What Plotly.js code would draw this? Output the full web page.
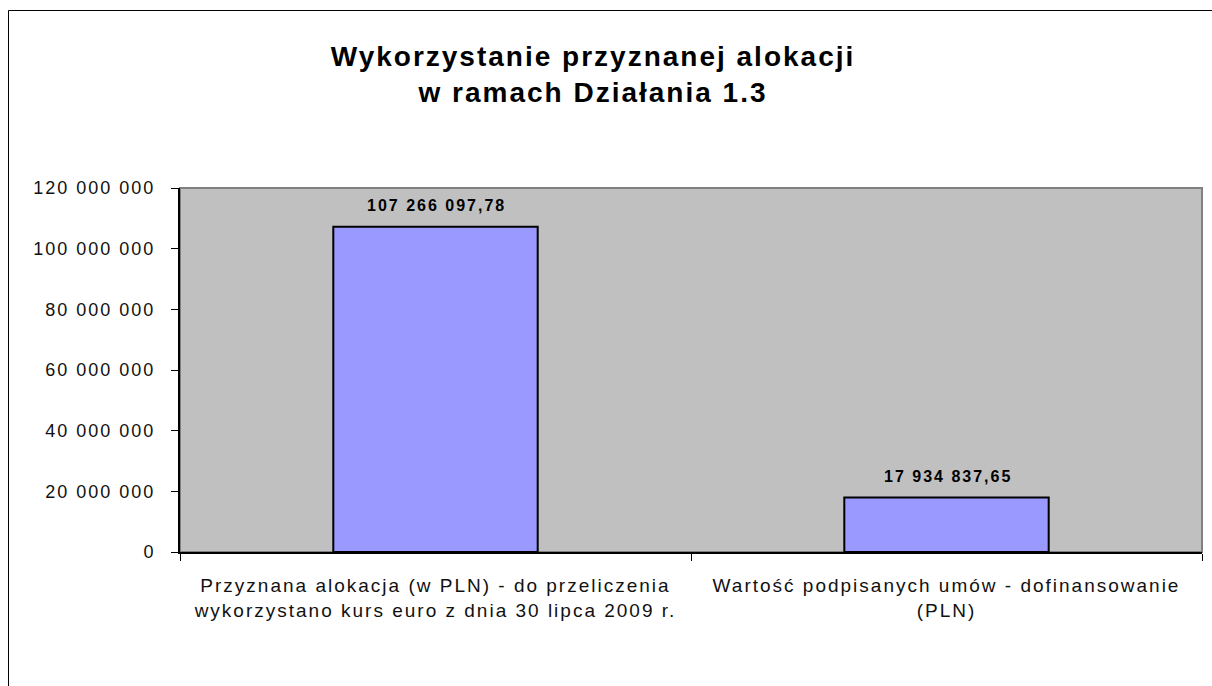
<!DOCTYPE html>
<html><head><meta charset="utf-8">
<script src="https://cdn.plot.ly/plotly-3.0.1.min.js"></script>
<style>
html,body{margin:0;padding:0;background:#fff}
#chart{width:1212px;height:686px}
#chart text{letter-spacing:2px}
</style>
</head><body><div id="chart"></div>
<script>
const categories = [
  'Przyznana alokacja (w PLN) - do przeliczenia<br>wykorzystano kurs euro z dnia 30 lipca 2009 r.',
  'Wartość podpisanych umów - dofinansowanie<br>(PLN)'
];
const values = [107266097.78, 17934837.65];
const yTickValues = [0, 20000000, 40000000, 60000000, 80000000, 100000000, 120000000];
const titleText = 'Wykorzystanie przyznanej alokacji<br>w ramach Działania 1.3';

function fmt(v) {
  const p = v.toFixed(2).split('.');
  return p[0].replace(/\B(?=(\d{3})+(?!\d))/g, ' ') + ',' + p[1];
}

const W = 1212, H = 686;
const m = {l: 180, r: 10, t: 188, b: 134};
const pw = W - m.l - m.r, ph = H - m.t - m.b;
const FONT = 'Liberation Sans, Arial, sans-serif';

const trace = {
  type: 'bar',
  x: categories,
  y: values,
  width: 0.4,
  marker: {color: '#9999FF', line: {color: '#000000', width: 2}},
  hoverinfo: 'none'
};

const annotations = categories.map((c, i) => ({
  x: c, y: values[i], xref: 'x', yref: 'y',
  text: fmt(values[i]), showarrow: false,
  yanchor: 'middle', yshift: 21, xshift: 1,
  font: {family: FONT, size: 16, color: '#000', weight: 'bold'}
}));

const layout = {
  width: W, height: H,
  margin: m,
  paper_bgcolor: '#ffffff',
  plot_bgcolor: '#C0C0C0',
  separators: ', ',
  showlegend: false,
  font: {family: FONT, color: '#000'},
  title: {
    text: titleText,
    xref: 'container', yref: 'container',
    x: 593 / W, xanchor: 'center',
    y: 1 - 66 / H, yanchor: 'top',
    font: {family: FONT, size: 28, color: '#000', weight: 'bold'}
  },
  xaxis: {
    type: 'category',
    showgrid: false,
    showline: true, linecolor: '#000', linewidth: 2,
    ticks: 'outside', tickson: 'boundaries', ticklen: 7, tickcolor: '#000', tickwidth: 1,
    ticklabelstandoff: 15,
    tickfont: {family: FONT, size: 19, color: '#111'},
    fixedrange: true
  },
  yaxis: {
    range: [0, 120000000],
    tickmode: 'array', tickvals: yTickValues,
    tickformat: ',d',
    showgrid: false, zeroline: false,
    showline: true, linecolor: '#000', linewidth: 2,
    ticks: 'outside', ticklen: 7, tickcolor: '#000', tickwidth: 1,
    ticklabelstandoff: 12,
    tickfont: {family: FONT, size: 18, color: '#111'},
    fixedrange: true
  },
  shapes: [
    {type: 'rect', xref: 'paper', yref: 'paper', x0: 0, x1: 1, y0: 0, y1: 1,
     line: {color: '#808080', width: 2}, layer: 'below'},
    {type: 'rect', xref: 'paper', yref: 'paper',
     x0: (8.5 - m.l) / pw, x1: 1.5, y0: -1, y1: (H - m.b - 10.5) / ph,
     line: {color: '#000', width: 1}, layer: 'below'}
  ],
  annotations: annotations
};

Plotly.newPlot('chart', [trace], layout, {displayModeBar: false, staticPlot: true});
</script>
</body></html>
